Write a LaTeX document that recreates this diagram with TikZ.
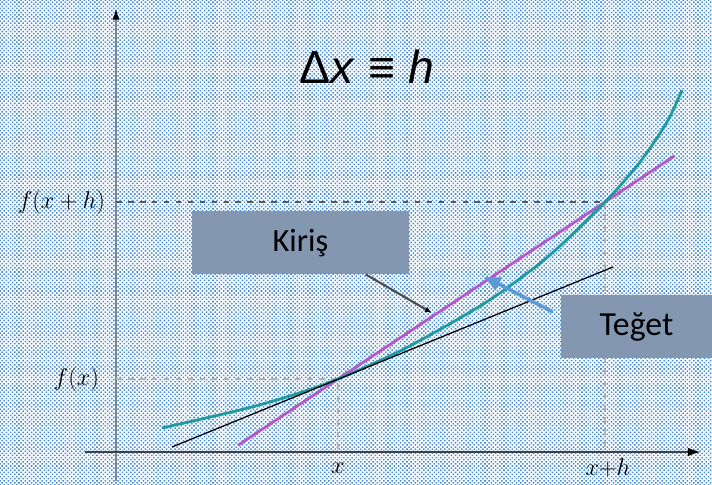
\documentclass[tikz,border=0pt]{standalone}
\usepackage{fontspec}
\setmainfont{Carlito}
\newfontfamily\formfont{Liberation Sans}
\usetikzlibrary{arrows.meta,patterns,calc}

\definecolor{dotblue}{RGB}{70,140,212}
\definecolor{boxgray}{RGB}{132,151,176}
\definecolor{curveteal}{RGB}{30,155,160}
\definecolor{secpurple}{RGB}{180,90,200}
\definecolor{arrowblue}{RGB}{91,155,213}
\definecolor{yaxisgray}{RGB}{125,130,140}
\definecolor{xaxisgray}{RGB}{60,64,72}

\pgfdeclarepatternformonly{squaredots}{\pgfqpoint{-1pt}{-1pt}}{\pgfqpoint{3pt}{3pt}}{\pgfqpoint{3pt}{3pt}}{
  \pgfpathrectangle{\pgfqpoint{-0.55pt}{-0.55pt}}{\pgfqpoint{1.1pt}{1.1pt}}
  \pgfpathrectangle{\pgfqpoint{0.95pt}{0.95pt}}{\pgfqpoint{1.1pt}{1.1pt}}
  \pgfusepath{fill}}

\begin{document}
\begin{tikzpicture}[
  axis/.style={line width=2pt},
  guide/.style={line width=2pt,dash pattern=on 4pt off 4.5pt},
  ticklabel/.style={font=\fontsize{17}{20}\selectfont},
  callout/.style={fill=boxgray,minimum width=5.425cm,minimum height=1.575cm,
    font=\fontsize{23}{28}\selectfont}
]
  \useasboundingbox (0,0) rectangle (17.8,12.125);
  \fill[white] (0,0) rectangle (17.8,12.125);
  \fill[pattern=squaredots,pattern color=dotblue] (0,0) rectangle (17.8,12.125);

  % axes
  \draw[axis,yaxisgray,-{Latex[black,length=9pt,width=5pt]}] (2.9,0.1) -- (2.9,11.95);
  \draw[axis,xaxisgray,-{Latex[black,length=10pt,width=6pt]}] (2.125,0.825) -- (17.55,0.825);

  \coordinate (P) at (8.45,2.65);
  \coordinate (Q) at (15.125,7.075);

  % guides
  \draw[guide,gray!70!black] (2.9,7.075) -- (Q);
  \draw[guide,gray!60] (Q) -- (15.125,0.825);
  \draw[guide,gray!60] (2.9,2.65) -- (P) -- (8.45,0.825);

  \node[ticklabel,anchor=east] (fxh) at (2.75,7.075) {$f(x+h)$};
  \node[ticklabel,anchor=east] (fx) at (2.6,2.65) {$f(x)$};
  \node[ticklabel] (xlab) at (8.45,0.42) {$x$};
  \node[ticklabel] (xhlab) at (15.2,0.42) {$x{+}h$};

  % secant, curve, tangent
  \draw[secpurple,line width=2pt] ($(P)!-0.375!(Q)$) -- ($(Q)!-0.26!(P)$);
  \draw[curveteal,line width=2pt] plot[smooth] coordinates {
    (4.05,1.425) (6.0,1.875) (7.25,2.225) (8.45,2.65) (10.0,3.35) (11.5,4.175)
    (12.5,4.8) (13.75,5.75) (15.125,7.075) (16.0,8.075) (16.675,9.075) (17.05,9.875)};
  \draw[black,line width=0.9pt] (4.3,0.95) -- (15.325,5.45);

  \node[font=\formfont\fontsize{33}{40}\selectfont] (delta) at (9.175,10.45)
    {Δ\textit{x} ≡ \textit{h}};

  \node[callout] (kiris) at (7.51,6.06) {Kiriş};
  \node[callout,minimum width=3.775cm,font=\fontsize{24}{28}\selectfont] (teget) at (15.91,3.96) {Teğet};

  \coordinate (kirisend) at (10.8,4.3);
  \draw[line width=1.5pt,gray!60!black,-{Latex[black,length=5pt,width=4pt]}]
    ($(kiris.south)!0.6!(kiris.south east)$) -- (kirisend);
  \coordinate (tegetend) at (12.125,5.2);
  \draw[line width=2.5pt,arrowblue,-{Triangle[length=11pt,width=10pt]}]
    ($(teget.north west)+(-0.2,-0.425)$) -- (tegetend);
\end{tikzpicture}
\end{document}
